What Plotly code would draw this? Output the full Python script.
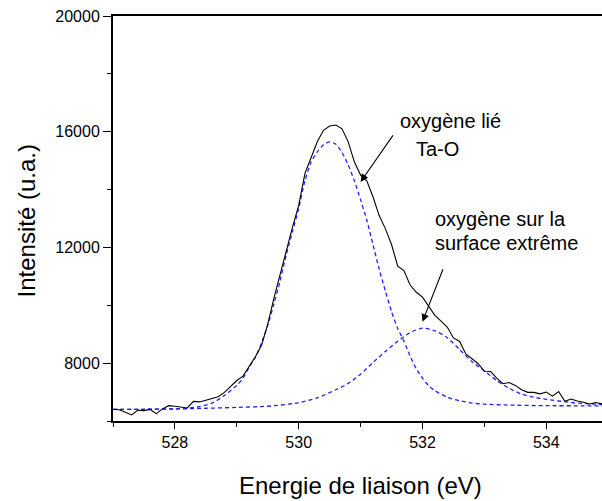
import plotly.graph_objects as go

# Experimental spectrum (black line)
energy_exp = [527.0, 527.1, 527.2, 527.3, 527.4, 527.5, 527.6, 527.7, 527.8, 527.9,
              528.0, 528.1, 528.2, 528.3, 528.4, 528.5, 528.6, 528.7, 528.8, 528.9,
              529.0, 529.1, 529.2, 529.3, 529.4, 529.5, 529.6, 529.7, 529.8, 529.9,
              530.0, 530.1, 530.2, 530.3, 530.4, 530.5, 530.6, 530.7, 530.8, 530.9,
              531.0, 531.1, 531.2, 531.3, 531.4, 531.5, 531.6, 531.7, 531.8, 531.9,
              532.0, 532.1, 532.2, 532.3, 532.4, 532.5, 532.6, 532.7, 532.8, 532.9,
              533.0, 533.1, 533.2, 533.3, 533.4, 533.5, 533.6, 533.7, 533.8, 533.9,
              534.0, 534.1, 534.2, 534.3, 534.4, 534.5, 534.6, 534.7, 534.8, 534.9, 535.0]
intensity_exp = [6400, 6390, 6300, 6210, 6370, 6360, 6400, 6255, 6420, 6530,
                 6510, 6490, 6450, 6680, 6660, 6720, 6790, 6840, 6990, 7180,
                 7400, 7550, 7870, 8220, 8620, 9350, 10250, 11100, 11900, 12700,
                 13450, 14550, 15100, 15650, 16050, 16200, 16230, 16100, 15650, 14950,
                 14500, 14300, 13750, 13100, 12650, 12100, 11350, 11200, 10700, 10450,
                 10280, 9960, 9650, 9450, 9250, 8870, 8750, 8320, 8150, 7980,
                 7720, 7710, 7480, 7290, 7330, 7230, 7080, 6990, 6990, 6940,
                 7000, 6860, 7020, 6680, 6760, 6690, 6650, 6590, 6640, 6590, 6600]

# Component 1: oxygène lié Ta-O (blue dashed)
energy_c1 = [527.0, 527.5, 528.0, 528.2, 528.4, 528.6, 528.8, 529.0, 529.1, 529.2,
             529.3, 529.4, 529.5, 529.6, 529.7, 529.8, 529.9, 530.0, 530.1, 530.2,
             530.3, 530.4, 530.5, 530.6, 530.7, 530.8, 530.9, 531.0, 531.1, 531.2,
             531.3, 531.4, 531.5, 531.6, 531.7, 531.8, 531.9, 532.0, 532.1, 532.2,
             532.4, 532.6, 532.8, 533.0, 533.4, 534.0, 534.6, 535.0]
intensity_c1 = [6400, 6405, 6420, 6440, 6500, 6620, 6880, 7230, 7480, 7860,
                8200, 8700, 9300, 10050, 10850, 11750, 12550, 13350, 14300, 14950,
                15300, 15550, 15650, 15570, 15280, 14850, 14300, 13650, 12950, 12100,
                11250, 10500, 9780, 9200, 8760, 8250, 7800, 7480, 7220, 7050,
                6820, 6700, 6620, 6580, 6550, 6530, 6525, 6520]

# Component 2: oxygène sur la surface extrême (blue dashed)
energy_c2 = [527.0, 527.5, 528.0, 528.5, 529.0, 529.5, 530.0, 530.3, 530.6, 530.8,
             531.0, 531.2, 531.4, 531.6, 531.8, 532.0, 532.2, 532.4, 532.6, 532.8,
             533.0, 533.2, 533.4, 533.6, 533.8, 534.0, 534.4, 534.8, 535.0]
intensity_c2 = [6400, 6405, 6415, 6440, 6470, 6510, 6630, 6800, 7080, 7300,
                7620, 8020, 8400, 8760, 9060, 9210, 9120, 8880, 8470, 8050,
                7730, 7400, 7130, 6930, 6820, 6750, 6640, 6580, 6560]

x_title = "Energie de liaison (eV)"
y_title = "Intensité (u.a.)"

FONT = "Liberation Sans, Arial, sans-serif"
BLUE = "#2020ff"

fig = go.Figure()
fig.add_trace(go.Scatter(x=energy_c1, y=intensity_c1, mode="lines",
                         line=dict(color=BLUE, width=1.3, dash="4px,3px", shape="spline", smoothing=0.6),
                         showlegend=False))
fig.add_trace(go.Scatter(x=energy_c2, y=intensity_c2, mode="lines",
                         line=dict(color=BLUE, width=1.3, dash="4px,3px", shape="spline", smoothing=0.6),
                         showlegend=False))
fig.add_trace(go.Scatter(x=energy_exp, y=intensity_exp, mode="lines",
                         line=dict(color="black", width=1.1),
                         showlegend=False))

fig.update_layout(
    width=602, height=501,
    margin=dict(l=113, r=0, t=16, b=80),
    paper_bgcolor="white", plot_bgcolor="white",
    font=dict(family=FONT, color="black", size=16),
    xaxis=dict(range=[527, 534.9], showgrid=False, zeroline=False,
               showline=True, linecolor="black", linewidth=1.5, mirror=True,
               ticks="outside", ticklen=6, tickwidth=1.3, tickcolor="black",
               tick0=528, dtick=2, tickfont=dict(size=16, family=FONT),
               minor=dict(ticks="outside", ticklen=4, tickwidth=1.3, tickcolor="black",
                          tick0=527, dtick=1, showgrid=False)),
    yaxis=dict(range=[6000, 20000], showgrid=False, zeroline=False,
               showline=True, linecolor="black", linewidth=2,
               ticks="outside", ticklen=8, tickwidth=1.3, tickcolor="black",
               tick0=8000, dtick=4000, tickformat="d", tickfont=dict(size=16, family=FONT),
               ticklabeloverflow="allow",
               minor=dict(ticks="outside", ticklen=4, tickwidth=1.3, tickcolor="black",
                          tick0=6000, dtick=2000, showgrid=False)),
)

# axis titles
fig.add_annotation(text=x_title, xref="paper", yref="paper", x=0.5064, y=0,
                   xanchor="center", yanchor="middle", yshift=-64, showarrow=False,
                   font=dict(size=24, family=FONT))
fig.add_annotation(text=y_title, xref="paper", yref="paper", x=0, y=0.5,
                   xanchor="center", yanchor="middle", xshift=-87, yshift=-3,
                   textangle=-90, showarrow=False, font=dict(size=24, family=FONT))

# labels
label_font = dict(size=20, family=FONT)
fig.add_annotation(text="oxygène lié", x=531.60, y=16373, xanchor="left", yanchor="middle",
                   showarrow=False, font=label_font)
fig.add_annotation(text="Ta-O", x=531.86, y=15406, xanchor="left", yanchor="middle",
                   showarrow=False, font=label_font)
fig.add_annotation(text="oxygène sur la", x=532.17, y=12990, xanchor="left", yanchor="middle",
                   showarrow=False, font=label_font)
fig.add_annotation(text="surface extrême", x=532.17, y=12160, xanchor="left", yanchor="middle",
                   showarrow=False, font=label_font)

# arrows
fig.add_annotation(text="", x=531.0, y=14266, ax=531.54, ay=15924, axref="x", ayref="y",
                   showarrow=True, arrowhead=2, arrowsize=1.4, arrowwidth=1.1, arrowcolor="black")
fig.add_annotation(text="", x=532.0, y=9431, ax=532.34, ay=11296, axref="x", ayref="y",
                   showarrow=True, arrowhead=2, arrowsize=1.4, arrowwidth=1.1, arrowcolor="black")

fig.write_html("out.html", config={"displayModeBar": False},
               post_script="document.body.style.margin='0';")
